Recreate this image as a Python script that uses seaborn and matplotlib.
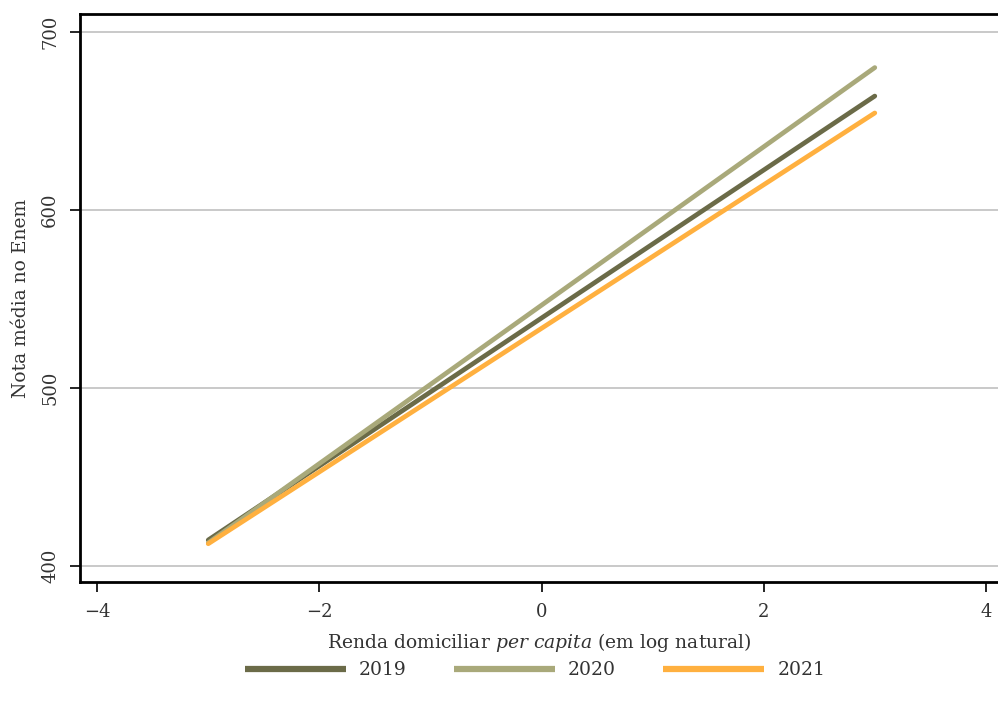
import numpy as np
import pandas as pd
import seaborn as sns
import matplotlib.pyplot as plt
from matplotlib.lines import Line2D

# fitted lines (endpoints)
renda = [-3, 3]
nota_2019 = [414.6, 664.0]
nota_2020 = [413.0, 680.0]
nota_2021 = [412.5, 654.5]
anos = ["2019", "2020", "2021"]
cores = ["#6b6b48", "#a9a97a", "#ffb03f"]

df = pd.concat([
    pd.DataFrame({"renda": renda, "nota": v, "ano": a})
    for a, v in zip(anos, [nota_2019, nota_2020, nota_2021])
])

sns.set_theme(style="white")
plt.rcParams["font.family"] = ["DejaVu Serif"]
plt.rcParams["mathtext.fontset"] = "custom"
plt.rcParams["mathtext.rm"] = "DejaVu Serif"
plt.rcParams["mathtext.it"] = "DejaVu Serif:italic"

fig = plt.figure(figsize=(9.98, 7.07), dpi=100)
ax = fig.add_axes([0.0802, 0.1768, 0.9198, 0.8034])

sns.lineplot(data=df, x="renda", y="nota", hue="ano", palette=cores,
             linewidth=3.4, ax=ax, legend=False, solid_capstyle="round")

ax.set_xlim(-4.154, 4.109)
ax.set_ylim(391.0, 710.1)
ax.set_xticks([-4, -2, 0, 2, 4])
ax.set_xticklabels(["\u22124", "\u22122", "0", "2", "4"])
ax.set_yticks([400, 500, 600, 700])
ax.set_yticklabels(["400", "500", "600", "700"], rotation=90, va="center")
ax.grid(axis="y", color="#c0c0c0", linewidth=1.2)
ax.grid(axis="x", visible=False)

for s in ["left", "bottom", "top"]:
    ax.spines[s].set_color("black")
    ax.spines[s].set_linewidth(2.0)
ax.spines["right"].set_visible(False)

ax.tick_params(axis="both", direction="out", length=7, width=1.2,
               color="black", labelsize=13, labelcolor="#333333",
               bottom=True, left=True)
ax.tick_params(axis="x", pad=8)
ax.tick_params(axis="y", pad=8)

ax.set_xlabel("Renda domiciliar $\\it{per\\ capita}$ (em log natural)",
              fontsize=13.5, color="#333333", labelpad=7)
ax.set_ylabel("Nota média no Enem", fontsize=13.5, color="#333333", labelpad=8)

handles = [Line2D([0], [0], color=c, linewidth=4.5, solid_capstyle="butt")
           for c in cores]
fig.legend(handles, anos, loc="center", bbox_to_anchor=(0.536, 0.052),
           ncol=3, frameon=False, fontsize=13.5, handlelength=5.4,
           handletextpad=0.7, columnspacing=2.5, labelcolor="#333333")

fig.savefig("out.png", dpi=100)
